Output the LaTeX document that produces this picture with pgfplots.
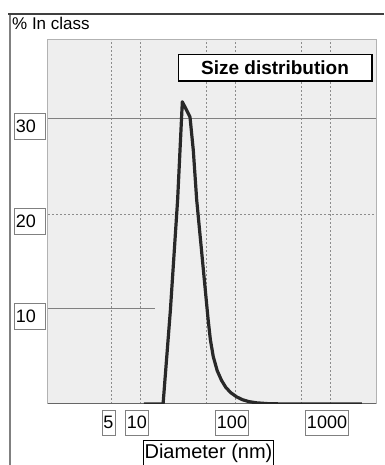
\documentclass[border=0pt]{standalone}
\usepackage{fontspec}
\setmainfont{Liberation Sans}
\usepackage{pgfplots}
\pgfplotsset{compat=1.18}
\definecolor{bg}{RGB}{238,238,238}
\definecolor{gridc}{RGB}{140,140,140}
\definecolor{curve}{RGB}{40,40,40}
\begin{document}
\begin{tikzpicture}[x=1pt,y=1pt]
\path[use as bounding box] (0,0) rectangle (384,465);
\draw[gray, line width=1.5pt] (10,0) -- (10,451);
\draw[black!75, line width=2pt] (8,451) -- (384,451);
\node[anchor=west, font=\fontsize{17}{18}\selectfont, inner sep=0pt] at (12,442) {\% In class};
\begin{axis}[
 at={(48pt,61pt)}, anchor=south west,
 width=328pt, height=364pt, scale only axis,
 xmode=log, xmin=1.076, xmax=3048, ymin=0, ymax=38.3,
 axis background/.style={fill=bg},
 axis line style={gray!60, line width=1pt},
 xtick={5,10,100,1000}, xticklabels={5,10,100,1000},
 ytick={10,20,30}, yticklabels={10,20,30},
 major tick length=0pt, minor tick length=0pt,
 minor xtick={50,500},
 xmajorgrids, xminorgrids,
 major grid style={gridc, dash pattern=on 2pt off 2pt},
 minor grid style={gridc, dash pattern=on 2pt off 2pt},
 /pgf/number format/assume math mode=true,
 ticklabel style={font=\fontsize{18}{20}\selectfont, fill=white, draw=gray, text=black},
 xticklabel style={anchor=north, yshift=-6pt, xshift=-3pt, inner xsep=1.5pt, minimum height=25pt},
 yticklabel style={anchor=east, yshift=-7pt, xshift=-3pt, text width=27pt, align=left, inner xsep=2pt, minimum height=26pt},
]
\addplot[gray, line width=1pt] coordinates {(1.076,30) (3048,30)};
\addplot[gridc, dash pattern=on 2pt off 2pt] coordinates {(1.076,20) (3048,20)};
\addplot[gray, line width=1pt] coordinates {(1.076,10) (14.4,10)};
\addplot[black!60, line width=1.2pt] coordinates {(1.076,0) (3048,0)};
\addplot[curve, line width=3.2pt, line join=round] coordinates {
(11,0) (17.5,0) (20.9,9.9) (24.9,21.5) (27.9,31.8) (33.6,30.2) (36.4,26.7)
(39.5,21.5) (52,9.0) (55,6.8) (59,5.0) (65,3.5) (72,2.5) (80,1.75) (90,1.2)
(104,0.75) (120,0.45) (140,0.25) (170,0.12) (220,0.04) (300,0.01) (2170,0)};
\end{axis}
\node[draw=black, line width=1pt, fill=white, minimum width=194pt, minimum height=26pt,
 font=\bfseries\fontsize{19}{20}\selectfont, inner sep=0pt] at (275,397) {Size distribution};
\draw[black, line width=2pt] (178,384) -- (372,384) -- (372,410);
\node[draw=black, line width=1pt, fill=white, anchor=north, font=\fontsize{20}{22}\selectfont,
 inner xsep=1pt, minimum height=26pt] at (208.5,25) {Diameter (nm)};
\end{tikzpicture}
\end{document}
